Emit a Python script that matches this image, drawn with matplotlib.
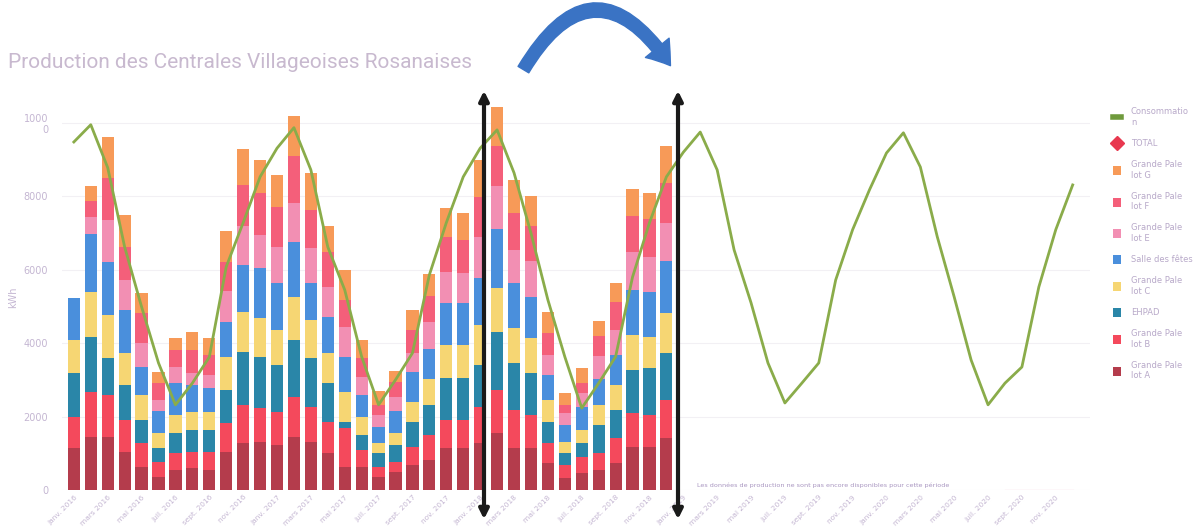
import matplotlib
matplotlib.use("Agg")
import matplotlib.pyplot as plt
from matplotlib.patches import FancyArrowPatch, Patch
from matplotlib.lines import Line2D
import numpy as np

# month labels (janv. 2016 -> déc. 2020), one label every 2 months
mois = ["janv.", "févr.", "mars", "avr.", "mai", "juin",
        "juil.", "août", "sept.", "oct.", "nov.", "déc."]
months = [f"{m} {y}" for y in range(2016, 2021) for m in mois]

# consumption line (kWh), 60 months
consommation = [9480, 9950, 8780, 6620, 4990, 3460, 2320, 2910, 3620, 6080, 7280, 8530,
                9310, 9870, 8720, 6620, 5450, 3630, 2320, 3000, 3730, 5860, 7280, 8530,
                9310, 9810, 8640, 7000, 5180, 3630, 2230, 2910, 3630, 5800, 7280, 8530,
                9200, 9750, 8720, 6540, 5100, 3460, 2370, 2910, 3460, 5720, 7090, 8180,
                9180, 9730, 8800, 6900, 5260, 3540, 2320, 2910, 3350, 5530, 7090, 8310]

# production per plant (kWh), 36 months, stacked from bottom
lot_a = [1145, 1444, 1444, 1035, 630, 350, 540, 600, 540, 1035, 1280, 1310,
         1225, 1445, 1310, 1010, 630, 630, 355, 490, 680, 820, 1145, 1145,
         1280, 1550, 1145, 1145, 730, 320, 460, 545, 730, 1170, 1170, 1415]
lot_b = [850, 1230, 1150, 870, 650, 410, 470, 440, 500, 800, 1040, 920,
         900, 1090, 950, 840, 1060, 460, 280, 270, 490, 680, 760, 760,
         980, 1180, 1040, 900, 550, 360, 440, 470, 690, 930, 870, 1040]
ehpad = [1200, 1500, 1010, 960, 620, 390, 540, 600, 600, 900, 1450, 1390,
         1280, 1560, 1340, 1060, 160, 410, 380, 470, 680, 820, 1150, 1150,
         1140, 1560, 1280, 1150, 570, 330, 380, 760, 770, 1170, 1280, 1280]
lot_c = [900, 1230, 1170, 870, 690, 410, 490, 490, 490, 880, 1090, 1070,
         960, 1170, 1030, 820, 820, 490, 270, 330, 550, 690, 900, 900,
         1100, 1220, 950, 950, 600, 300, 360, 550, 680, 960, 850, 1090]
salle = [1140, 1560, 1440, 1170, 760, 580, 870, 740, 660, 950, 1280, 1360,
         1280, 1500, 1010, 990, 950, 600, 440, 580, 820, 820, 1150, 1150,
         1270, 1590, 1230, 1120, 680, 460, 630, 690, 820, 1230, 1230, 1400]
lot_e = [0, 460, 1150, 820, 650, 320, 440, 330, 350, 850, 1040, 900,
         980, 1060, 950, 820, 820, 490, 320, 380, 520, 740, 840, 800,
         1130, 1180, 900, 960, 550, 330, 380, 630, 680, 1010, 960, 1060]
lot_f = [0, 440, 1140, 900, 820, 460, 460, 620, 550, 790, 1140, 1140,
         1090, 1260, 1040, 930, 740, 520, 280, 410, 630, 710, 960, 910,
         1090, 1090, 1010, 960, 600, 220, 270, 550, 740, 980, 1010, 1090]
lot_g = [0, 410, 1120, 870, 550, 300, 330, 470, 460, 840, 960, 900,
         870, 1090, 1010, 710, 820, 490, 360, 300, 540, 600, 780, 740,
         1000, 1050, 900, 820, 570, 330, 410, 410, 540, 740, 730, 990]

series = [
    ("Grande Pale\nlot A", lot_a, "#b43c4c"),
    ("Grande Pale\nlot B", lot_b, "#f4495c"),
    ("EHPAD", ehpad, "#2a86a8"),
    ("Grande Pale\nlot C", lot_c, "#f6d673"),
    ("Salle des fêtes", salle, "#4a8fdc"),
    ("Grande Pale\nlot E", lot_e, "#f28fb3"),
    ("Grande Pale\nlot F", lot_f, "#f45f7a"),
    ("Grande Pale\nlot G", lot_g, "#f79a58"),
]

txt_col = "#c4b6d2"

fig = plt.figure(figsize=(12.04, 5.32), dpi=100)
ax = fig.add_axes([0.0515, 0.079, 0.8535, 0.7245])

x = np.arange(len(consommation))
xb = x[:len(lot_a)]
bottom = np.zeros(len(lot_a))
for name, vals, col in series:
    ax.bar(xb, vals, bottom=bottom, width=0.72, color=col, linewidth=0)
    bottom += np.array(vals)

ax.plot(x, consommation, color="#8aac4a", linewidth=2.0, zorder=5)
# empty TOTAL series at the end of the period
ax.plot(x[55:], [0] * len(x[55:]), color="#f08aa8", linewidth=0.8)
ax.text(36.8, 60, "Les données de production ne sont pas encore disponibles pour cette période",
        fontsize=4.6, color="#a895c0", va="bottom")

ax.set_xlim(-0.7, 60.0)
ax.set_ylim(0, 10500)
ax.set_yticks([0, 2000, 4000, 6000, 8000, 10000])
ax.set_yticklabels(["0", "2000", "4000", "6000", "8000", "1000\n0"])
ax.set_xticks(x[::2])
ax.set_xticklabels(months[::2], rotation=45, ha="right", rotation_mode="anchor")
ax.tick_params(axis="both", length=0, colors=txt_col, labelsize=7)
ax.tick_params(axis="x", labelsize=5.3, pad=3)
ax.tick_params(axis="y", pad=10)
ax.set_ylabel("kWh", color=txt_col, fontsize=7)
ax.grid(axis="y", color="#f2f0f4", linewidth=0.8)
ax.set_axisbelow(True)
for s in ax.spines.values():
    s.set_visible(False)

fig.text(0.007, 1 - 62 / 532, "Production des Centrales Villageoises Rosanaises",
         fontsize=15, color="#c8b9cf", family="Roboto", va="center")

handles = [Line2D([], [], color="#6f9a3c", linewidth=4),
           Line2D([], [], marker="D", color="#e8384f", linestyle="none", markersize=7)]
labels = ["Consommatio\nn", "TOTAL"]
for name, vals, col in reversed(series):
    handles.append(Patch(facecolor=col))
    labels.append(name)
leg = fig.legend(handles, labels, loc="upper left", bbox_to_anchor=(1105 / 1204, 1 - 100 / 532),
                 frameon=False, fontsize=6, labelspacing=1.45, handlelength=1.0,
                 handleheight=1.3, handletextpad=1.2)
for t in leg.get_texts():
    t.set_color("#b8a9c9")

# annotations drawn on the screenshot
curve = FancyArrowPatch((522 / 1204, 1 - 72 / 532), (672 / 1204, 1 - 68 / 532),
                        transform=fig.transFigure, connectionstyle="arc3,rad=-0.8",
                        arrowstyle="simple,head_length=0.8,head_width=1.1,tail_width=0.45",
                        mutation_scale=20, color="#3a73c4")
fig.patches.append(curve)
for px in [484, 678]:
    arr = FancyArrowPatch((px / 1204, 1 - 522 / 532), (px / 1204, 1 - 88 / 532),
                          transform=fig.transFigure, arrowstyle="<|-|>",
                          mutation_scale=14, color="#1a1a1a", linewidth=3)
    fig.patches.append(arr)

fig.savefig("out.png", dpi=100, facecolor="white")
